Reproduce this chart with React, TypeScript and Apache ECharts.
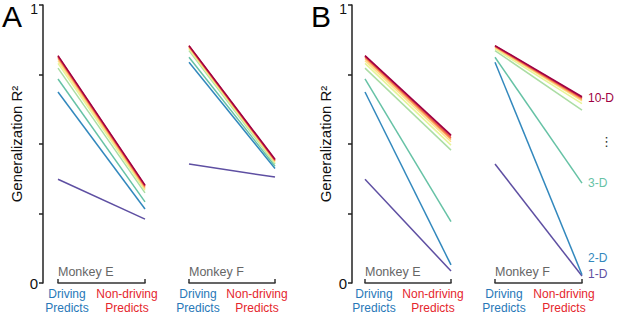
import React, { useEffect, useRef } from "react";
import * as echarts from "echarts";

const dims = ["1-D", "2-D", "3-D", "4-D", "5-D", "6-D", "7-D", "8-D", "9-D", "10-D"];
const dimColors = ["#5e4fa2", "#3288bd", "#66c2a5", "#abdda4", "#e6f598", "#fee08b", "#fdae61", "#f46d43", "#d53e4f", "#9e0142"];
const categories = ["Driving", "Non-driving"];
const yTickLabels = ["0", "1"];

// Panel A (Monkey E / Monkey F): [Driving predicts, Non-driving predicts] per dimensionality
const aEDriving = [0.373, 0.687, 0.734, 0.773, 0.79, 0.8, 0.808, 0.813, 0.816, 0.818];
const aENonDriving = [0.23, 0.266, 0.292, 0.324, 0.333, 0.338, 0.343, 0.347, 0.35, 0.352];
const aFDriving = [0.428, 0.794, 0.812, 0.836, 0.842, 0.846, 0.849, 0.851, 0.853, 0.854];
const aFNonDriving = [0.381, 0.412, 0.42, 0.428, 0.432, 0.436, 0.439, 0.441, 0.443, 0.445];
// Panel B
const bEDriving = [0.373, 0.687, 0.734, 0.773, 0.79, 0.8, 0.808, 0.813, 0.816, 0.818];
const bENonDriving = [0.043, 0.065, 0.221, 0.478, 0.496, 0.508, 0.516, 0.522, 0.528, 0.532];
const bFDriving = [0.428, 0.794, 0.812, 0.836, 0.842, 0.846, 0.849, 0.851, 0.853, 0.854];
const bFNonDriving = [0.025, 0.03, 0.359, 0.622, 0.645, 0.655, 0.66, 0.664, 0.667, 0.67];

const FONT = "'Liberation Sans', Arial, Helvetica, sans-serif";

export default function App() {
  const ref = useRef<HTMLDivElement>(null);
  useEffect(() => {
    document.body.style.margin = "0";
    if (!ref.current) return;
    const chart = echarts.init(ref.current, null, { renderer: "svg" });

    const panels = [
      { drv: aEDriving, nd: aENonDriving, left: 58, width: 87, yOffset: 15, showY: true, monkey: "Monkey E" },
      { drv: aFDriving, nd: aFNonDriving, left: 189, width: 86, yOffset: 0, showY: false, monkey: "Monkey F" },
      { drv: bEDriving, nd: bENonDriving, left: 365, width: 86, yOffset: 13, showY: true, monkey: "Monkey E" },
      { drv: bFDriving, nd: bFNonDriving, left: 495, width: 87, yOffset: 0, showY: false, monkey: "Monkey F" },
    ];

    const grid = panels.map((p) => ({
      left: p.left,
      width: p.width,
      top: 5,
      height: 278,
      containLabel: false,
      outerBoundsMode: "none",
    }));

    const xAxis = panels.map((p, i) => ({
      type: "category",
      gridIndex: i,
      data: categories,
      boundaryGap: false,
      axisLine: { lineStyle: { color: "#333", width: 1.5 } },
      axisTick: { inside: true, length: 4, lineStyle: { color: "#333", width: 1.5 } },
      axisLabel: {
        interval: 0,
        margin: 4,
        hideOverlap: false,
        fontFamily: FONT,
        formatter: (v: string) =>
          v === categories[0] ? "{d|Driving}\n{d|Predicts}" : "{n|Non-driving}\n{n|Predicts}",
        rich: {
          d: { color: "#2878b8", fontSize: 12, lineHeight: 14, fontFamily: FONT, padding: [0, 0, 0, 18] },
          n: { color: "#e5262d", fontSize: 12, lineHeight: 14, fontFamily: FONT, padding: [0, 36, 0, 0] },
        },
      },
    }));

    const yAxis = panels.map((p, i) => ({
      type: "value",
      gridIndex: i,
      min: 0,
      max: 1,
      interval: 0.25,
      show: p.showY,
      offset: p.yOffset,
      name: p.showY ? "Generalization R²" : "",
      nameLocation: "middle",
      nameGap: 19,
      nameTextStyle: { fontSize: 15, color: "#111", fontFamily: FONT },
      splitLine: { show: false },
      axisLine: { show: true, lineStyle: { color: "#222", width: 1.5 } },
      axisTick: { show: true, length: 4, lineStyle: { color: "#222", width: 1.5 } },
      axisLabel: {
        showMinLabel: true,
        showMaxLabel: true,
        margin: 5,
        formatter: (v: number) => (v === 0 ? `{z|${yTickLabels[0]}}` : v === 1 ? `{o|${yTickLabels[1]}}` : ""),
        rich: {
          z: { fontSize: 15, color: "#111", fontFamily: FONT },
          o: { fontSize: 14, color: "#111", fontFamily: FONT, padding: [8, 0, 0, 0] },
        },
      },
    }));

    const endLabelOffsets: Record<number, number[]> = { 0: [0, -2], 1: [0, -17], 2: [0, 0], 9: [0, 1] };

    const series: any[] = [];
    panels.forEach((p, i) => {
      dims.forEach((d, k) => {
        const s: any = {
          type: "line",
          name: d,
          xAxisIndex: i,
          yAxisIndex: i,
          data: [p.drv[k], p.nd[k]],
          symbol: "none",
          color: dimColors[k],
          lineStyle: { width: 1.5, color: dimColors[k] },
          z: 2 + k,
        };
        if (i === 3 && endLabelOffsets[k]) {
          s.endLabel = {
            show: true,
            formatter: d,
            color: dimColors[k],
            fontSize: 12,
            fontFamily: FONT,
            distance: 6,
            offset: endLabelOffsets[k],
          };
        }
        series.push(s);
      });
    });

    const graphic: any[] = [
      { type: "text", left: 2, top: 1, style: { text: "A", fontSize: 30, fontFamily: FONT, fill: "#000" } },
      { type: "text", left: 311, top: 1, style: { text: "B", fontSize: 30, fontFamily: FONT, fill: "#000" } },
      { type: "text", left: 600, top: 135, style: { text: "⋮", fontSize: 13, fontFamily: "DejaVu Sans", fill: "#333" } },
      ...panels.map((p) => ({
        type: "text",
        left: p.left,
        top: 265,
        style: { text: p.monkey, fontSize: 12.5, fontFamily: FONT, fill: "#666" },
      })),
    ];

    chart.setOption({
      animation: false,
      textStyle: { fontFamily: FONT },
      grid,
      xAxis,
      yAxis,
      series,
      graphic,
    } as any);

    return () => chart.dispose();
  }, []);
  return <div ref={ref} style={{ width: 617, height: 319 }} />;
}
